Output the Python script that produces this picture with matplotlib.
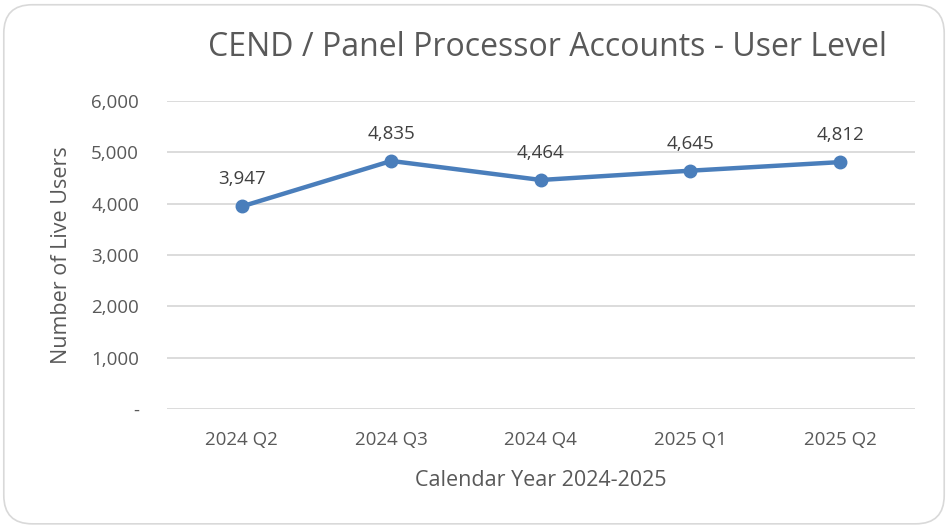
import matplotlib as mpl
mpl.use('Agg')

import matplotlib.pyplot as plt
from matplotlib.patches import FancyBboxPatch
from matplotlib.ticker import FuncFormatter

quarters = ['2024 Q2', '2024 Q3', '2024 Q4', '2025 Q1', '2025 Q2']
live_users = [3947, 4835, 4464, 4645, 4812]

grey = '#595959'
blue = '#4A7EBB'

plt.rcParams['font.family'] = ['Open Sans', 'DejaVu Sans']

fig = plt.figure(figsize=(9.48, 5.27), dpi=100)
ax = fig.add_axes([0.176, 0.224, 0.789, 0.584])

x = range(len(quarters))
ax.plot(x, live_users, color=blue, linewidth=3.2, marker='o', markersize=9,
        zorder=3, solid_capstyle='round')
for xi, v in zip(x, live_users):
    ax.annotate(f'{v:,}', (xi, v), xytext=(0, 13), textcoords='offset points',
                ha='center', va='bottom', fontsize=13.5, color='#404040')

ax.set_xlim(-0.5, len(quarters) - 0.5)
ax.set_ylim(0, 6000)
ax.set_yticks(range(0, 6001, 1000))
ax.yaxis.set_major_formatter(FuncFormatter(lambda v, p: '-' if v == 0 else f'{int(v):,}'))
ax.set_xticks(list(x))
ax.set_xticklabels(quarters)
ax.grid(axis='y', color='#D9D9D9', linewidth=1.3)
ax.set_axisbelow(True)
for s in ax.spines.values():
    s.set_visible(False)
ax.tick_params(length=0, labelsize=13.5, colors=grey)
ax.tick_params(axis='x', pad=16)
ax.tick_params(axis='y', pad=20)

ax.set_xlabel('Calendar Year 2024-2025', fontsize=15.5, color=grey, labelpad=15)
ax.set_ylabel('Number of Live Users', fontsize=15.5, color=grey, labelpad=14)
fig.text(0.578, 0.91, 'CEND / Panel Processor Accounts - User Level',
         ha='center', va='center', fontsize=23, color=grey)

border = FancyBboxPatch((0.004, 0.006), 0.992, 0.985, boxstyle='round,pad=0,rounding_size=0.03',
                        transform=fig.transFigure, facecolor='none', edgecolor='#D9D9D9',
                        linewidth=1.2, mutation_aspect=948 / 527)
fig.patches.append(border)

fig.savefig('out.png', dpi=100)
